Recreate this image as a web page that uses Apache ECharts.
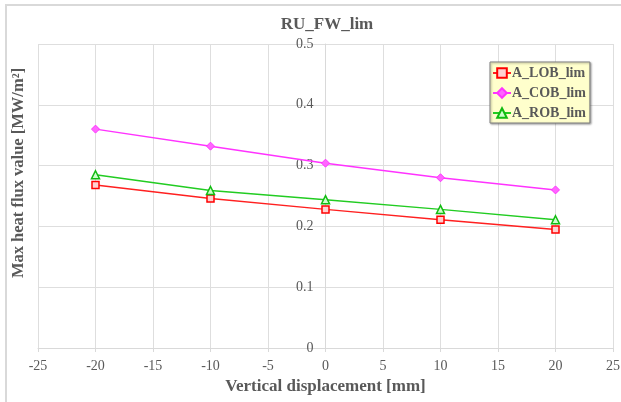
<!DOCTYPE html>
<html>
<head>
<meta charset="utf-8">
<script src="https://cdn.jsdelivr.net/npm/echarts@6/dist/echarts.min.js"></script>
<style>
html,body{margin:0;padding:0;background:#fff;}
#c{width:621px;height:402px;}
</style>
</head>
<body>
<div id="c"></div>
<script>
var xValues = [-20, -10, 0, 10, 20];
var lobValues = [0.268, 0.246, 0.228, 0.211, 0.195];
var cobValues = [0.360, 0.332, 0.304, 0.280, 0.260];
var robValues = [0.285, 0.259, 0.244, 0.228, 0.211];
var seriesNames = ['A_LOB_lim', 'A_COB_lim', 'A_ROB_lim'];

function pairs(vals){ return xValues.map(function(x,i){ return [x, vals[i]]; }); }

var font = '"Liberation Serif", "Times New Roman", serif';
var chart = echarts.init(document.getElementById('c'), null, {renderer:'canvas'});
chart.setOption({
  animation:false,
  backgroundColor:'#fff',
  graphic:[{type:'rect', shape:{x:6,y:5,width:640,height:420}, style:{fill:'none', stroke:'#D9D9D9', lineWidth:2}, silent:true}],
  title:{text:'RU_FW_lim', left:322, textAlign:'center', top:11,
    textStyle:{fontFamily:font, fontSize:17, fontWeight:'bold', color:'#595959'}},
  grid:{left:38, top:44, right:8, bottom:54, outerBoundsMode:'none', containLabel:false},
  legend:{
    orient:'vertical', left:490, top:62, data:seriesNames,
    backgroundColor:'#FFFFCC', borderColor:'#808080', borderWidth:1,
    padding:[4,4,3,2], itemGap:6, itemWidth:18, itemHeight:12,
    shadowColor:'rgba(0,0,0,0.35)', shadowBlur:2, shadowOffsetX:1, shadowOffsetY:1,
    textStyle:{fontFamily:font, fontSize:14, fontWeight:'bold', color:'#595959', padding:[0,0,0,-4]}
  },
  xAxis:{
    type:'value', min:-25, max:25, interval:5,
    name:'Vertical displacement [mm]', nameLocation:'middle', nameGap:30,
    nameTextStyle:{fontFamily:font, fontSize:17, fontWeight:'bold', color:'#595959'},
    axisLine:{show:true, onZero:true, lineStyle:{color:'#D9D9D9'}},
    axisTick:{show:true, length:4, lineStyle:{color:'#D9D9D9'}},
    axisLabel:{fontFamily:font, fontSize:14, color:'#595959', margin:11},
    splitLine:{show:true, lineStyle:{color:'#DEDEDE'}}
  },
  yAxis:{
    type:'value', min:0, max:0.5, interval:0.1, position:'left', offset:-287.5,
    name:'Max heat flux value [MW/m²]', nameLocation:'middle', nameGap:298,
    nameTextStyle:{fontFamily:font, fontSize:16.5, fontWeight:'bold', color:'#595959', padding:[0,0,0,46]},
    axisLine:{show:true, onZero:false, lineStyle:{color:'#D9D9D9'}},
    axisTick:{show:false},
    axisLabel:{fontFamily:font, fontSize:14, color:'#595959', margin:12},
    splitLine:{show:true, lineStyle:{color:'#DEDEDE'}}
  },
  series:[
    {name:seriesNames[0], type:'line', data:pairs(lobValues), symbol:'rect', symbolSize:7,
      lineStyle:{color:'#FF2020', width:1.5},
      itemStyle:{color:'#FFD0D0', borderColor:'#FF0000', borderWidth:1.5}},
    {name:seriesNames[1], type:'line', data:pairs(cobValues), symbol:'diamond', symbolSize:8,
      lineStyle:{color:'#FF33FF', width:1.5},
      itemStyle:{color:'#FF66FF', borderColor:'#FF33FF', borderWidth:1}},
    {name:seriesNames[2], type:'line', data:pairs(robValues), symbol:'triangle', symbolSize:8,
      lineStyle:{color:'#22CC22', width:1.5},
      itemStyle:{color:'#CCFFCC', borderColor:'#11BB11', borderWidth:1.5}}
  ]
});
</script>
</body>
</html>
